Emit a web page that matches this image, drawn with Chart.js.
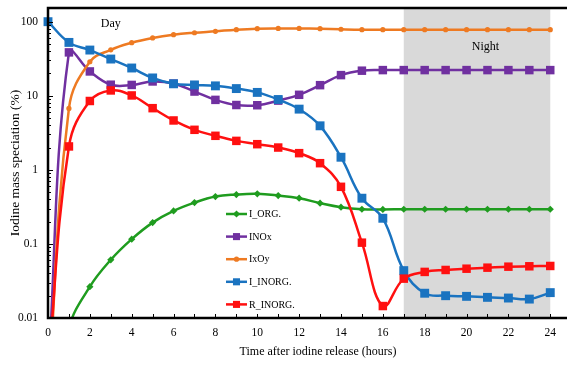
<!DOCTYPE html>
<html>
<head>
<meta charset="utf-8">
<script src="https://cdn.jsdelivr.net/npm/chart.js@4.4.1/dist/chart.umd.min.js"></script>
<style>
    html, body { margin: 0; padding: 0; background: #fff; }
    #wrap { width: 567px; height: 367px; }
</style>
</head>
<body>
<div id="wrap"><canvas id="chart" width="567" height="367"></canvas></div>
<script>
var hours = [0, 1, 2, 3, 4, 5, 6, 7, 8, 9, 10, 11, 12, 13, 14, 15, 16, 17, 18, 19, 20, 21, 22, 23, 24];

// values at t=0 (and I_ORG. at t=1) sit below the 0.01 floor of the axis
var iOrg = [0.0003, 0.0075, 0.0265, 0.061, 0.116, 0.194, 0.279, 0.361, 0.436, 0.464, 0.474, 0.45, 0.414,
    0.355, 0.313, 0.294, 0.292, 0.294, 0.294, 0.294, 0.294, 0.294, 0.294, 0.294, 0.294];
var inox = [0.0016, 38.5, 21.3, 14.1, 14.0, 15.6, 14.6, 11.4, 8.8, 7.5, 7.45, 8.6, 10.3,
    13.9, 19.0, 21.8, 22.2, 22.2, 22.2, 22.2, 22.2, 22.2, 22.2, 22.2, 22.2];
var ixoy = [0.0008, 6.74, 28.8, 41.7, 52, 60.3, 66.7, 70.9, 74.2, 78, 80.4, 81, 81,
    80.4, 79, 78, 78, 78, 78, 78, 78, 78, 78, 78, 78];
var iInorg = [100, 52.5, 41.4, 31.3, 23.7, 17.4, 14.5, 14.0, 13.6, 12.5, 11.1, 8.9, 6.6,
    3.93, 1.48, 0.414, 0.222, 0.0436, 0.0216, 0.020, 0.0196, 0.019, 0.0186, 0.018, 0.022];
var rInorg = [0.0019, 2.07, 8.5, 11.8, 10.1, 6.8, 4.64, 3.47, 2.88, 2.46, 2.22, 2.0, 1.68,
    1.23, 0.59, 0.104, 0.0145, 0.034, 0.0419, 0.0445, 0.0463, 0.0478, 0.0493, 0.0499, 0.0504];

var xTicks = [0, 2, 4, 6, 8, 10, 12, 14, 16, 18, 20, 22, 24];
var yTicks = [0.01, 0.1, 1, 10, 100];
var nightStart = 17, nightEnd = 24;

var SERIF = '"Liberation Serif", "Times New Roman", serif';

function toPoints(ys) {
    var out = [];
    for (var i = 0; i < hours.length; i++) out.push({ x: hours[i], y: ys[i] });
    return out;
}

function series(label, ys, color, style, radius) {
    return {
        label: label,
        data: toPoints(ys),
        borderColor: color,
        backgroundColor: color,
        borderWidth: 2.5,
        pointStyle: style,
        pointRadius: radius,
        pointBorderWidth: 0,
        tension: 0.4,
        clip: { left: 12, top: 0, right: 0, bottom: 0 }
    };
}

var datasets = [
    series('I_ORG.', iOrg, '#1f9c1f', 'rectRot', 3.6),
    series('INOx', inox, '#7030a0', 'rect', 6),
    series('IxOy', ixoy, '#ee7a22', 'circle', 2.6),
    series('I_INORG.', iInorg, '#1a73c0', 'rect', 6.3),
    series('R_INORG.', rInorg, '#ff1010', 'rect', 6)
];
// later series are drawn on top, like the original
for (var k = 0; k < datasets.length; k++) datasets[k].order = datasets.length - k;

var decorations = {
    id: 'decorations',
    beforeDatasetsDraw: function (chart) {
        var ctx = chart.ctx, a = chart.chartArea, xs = chart.scales.x;
        var x0 = xs.getPixelForValue(nightStart), x1 = xs.getPixelForValue(nightEnd);
        ctx.save();
        ctx.fillStyle = '#d9d9d9';
        ctx.fillRect(x0, a.top, x1 - x0, a.bottom - a.top);
        ctx.restore();
    },
    afterDatasetsDraw: function (chart) {
        var ctx = chart.ctx, a = chart.chartArea, xs = chart.scales.x, ys = chart.scales.y;
        ctx.save();

        // inner tick marks
        ctx.strokeStyle = '#000';
        ctx.lineWidth = 1;
        for (var d = 0.01; d < 150; d *= 10) {
            for (var m = 1; m < 10; m++) {
                var v = d * m;
                if (v > ys.max) break;
                var py = Math.round(ys.getPixelForValue(v)) + 0.5;
                ctx.beginPath();
                ctx.moveTo(a.left, py);
                ctx.lineTo(a.left + (m === 1 ? 5 : 3), py);
                ctx.stroke();
            }
        }
        for (var h = 0; h <= 24; h++) {
            var px = Math.round(xs.getPixelForValue(h)) + 0.5;
            ctx.beginPath();
            ctx.moveTo(px, a.bottom);
            ctx.lineTo(px, a.bottom - 4);
            ctx.stroke();
        }

        // frame: top, left, bottom
        ctx.lineWidth = 2.5;
        ctx.beginPath();
        ctx.moveTo(a.right, a.top);
        ctx.lineTo(a.left, a.top);
        ctx.lineTo(a.left, a.bottom);
        ctx.lineTo(a.right, a.bottom);
        ctx.stroke();

        // Day / Night labels
        ctx.fillStyle = '#000';
        ctx.font = '12px ' + SERIF;
        ctx.textAlign = 'center';
        ctx.textBaseline = 'middle';
        ctx.fillText('Day', xs.getPixelForValue(3), ys.getPixelForValue(94));
        ctx.fillText('Night', xs.getPixelForValue(20.9), ys.getPixelForValue(46));

        // x axis title (centred on the original, uncropped plot)
        ctx.fillText('Time after iodine release (hours)', a.left + 270, 352);

        // legend inside the plot
        var lx = a.left + 178, ly = a.top + 206;
        ctx.font = '10px ' + SERIF;
        ctx.textAlign = 'left';
        for (var i = 0; i < chart.data.datasets.length; i++) {
            var ds = chart.data.datasets[i];
            var cy = ly + i * 22.6;
            ctx.strokeStyle = ds.borderColor;
            ctx.fillStyle = ds.backgroundColor;
            ctx.lineWidth = 2.5;
            ctx.beginPath();
            ctx.moveTo(lx, cy);
            ctx.lineTo(lx + 21, cy);
            ctx.stroke();
            Chart.helpers.drawPoint(ctx, {
                pointStyle: ds.pointStyle,
                radius: ds.pointStyle === 'rect' ? 5 : ds.pointRadius,
                rotation: 0,
                borderWidth: 0
            }, lx + 10.5, cy);
            ctx.fillStyle = '#000';
            ctx.fillText(ds.label, lx + 23, cy + 0.5);
        }
        ctx.restore();
    }
};

new Chart(document.getElementById('chart').getContext('2d'), {
    type: 'line',
    data: { datasets: datasets },
    plugins: [decorations],
    options: {
        responsive: false,
        animation: false,
        devicePixelRatio: 1,
        layout: { autoPadding: false, padding: { top: 8, left: 0, right: 0, bottom: 0 } },
        plugins: { legend: { display: false }, tooltip: { enabled: false } },
        scales: {
            x: {
                type: 'linear',
                min: 0,
                max: 24.8,
                grid: { display: false, drawTicks: false },
                border: { display: false },
                ticks: {
                    color: '#000',
                    padding: 8,
                    maxRotation: 0,
                    autoSkip: false,
                    font: { family: SERIF, size: 11.5 }
                },
                afterBuildTicks: function (s) {
                    s.ticks = xTicks.map(function (v) { return { value: v }; });
                },
                afterFit: function (s) {
                    s.height = 49;
                    s.paddingLeft = 0;
                    s.paddingRight = 0;
                }
            },
            y: {
                type: 'logarithmic',
                min: 0.01,
                max: 153,
                grid: { display: false, drawTicks: false },
                border: { display: false },
                ticks: {
                    color: '#000',
                    padding: 10,
                    font: { family: SERIF, size: 11.5 },
                    callback: function (v) { return String(v); }
                },
                afterBuildTicks: function (s) {
                    s.ticks = yTicks.map(function (v) { return { value: v }; });
                },
                afterFit: function (s) {
                    s.width = 48;
                    s.paddingTop = 0;
                    s.paddingBottom = 0;
                },
                title: {
                    display: true,
                    text: 'Iodine mass speciation (%)',
                    color: '#000',
                    font: { family: SERIF, size: 13.5 },
                    padding: { top: 7, bottom: 0 }
                }
            }
        }
    }
});
</script>
</body>
</html>
